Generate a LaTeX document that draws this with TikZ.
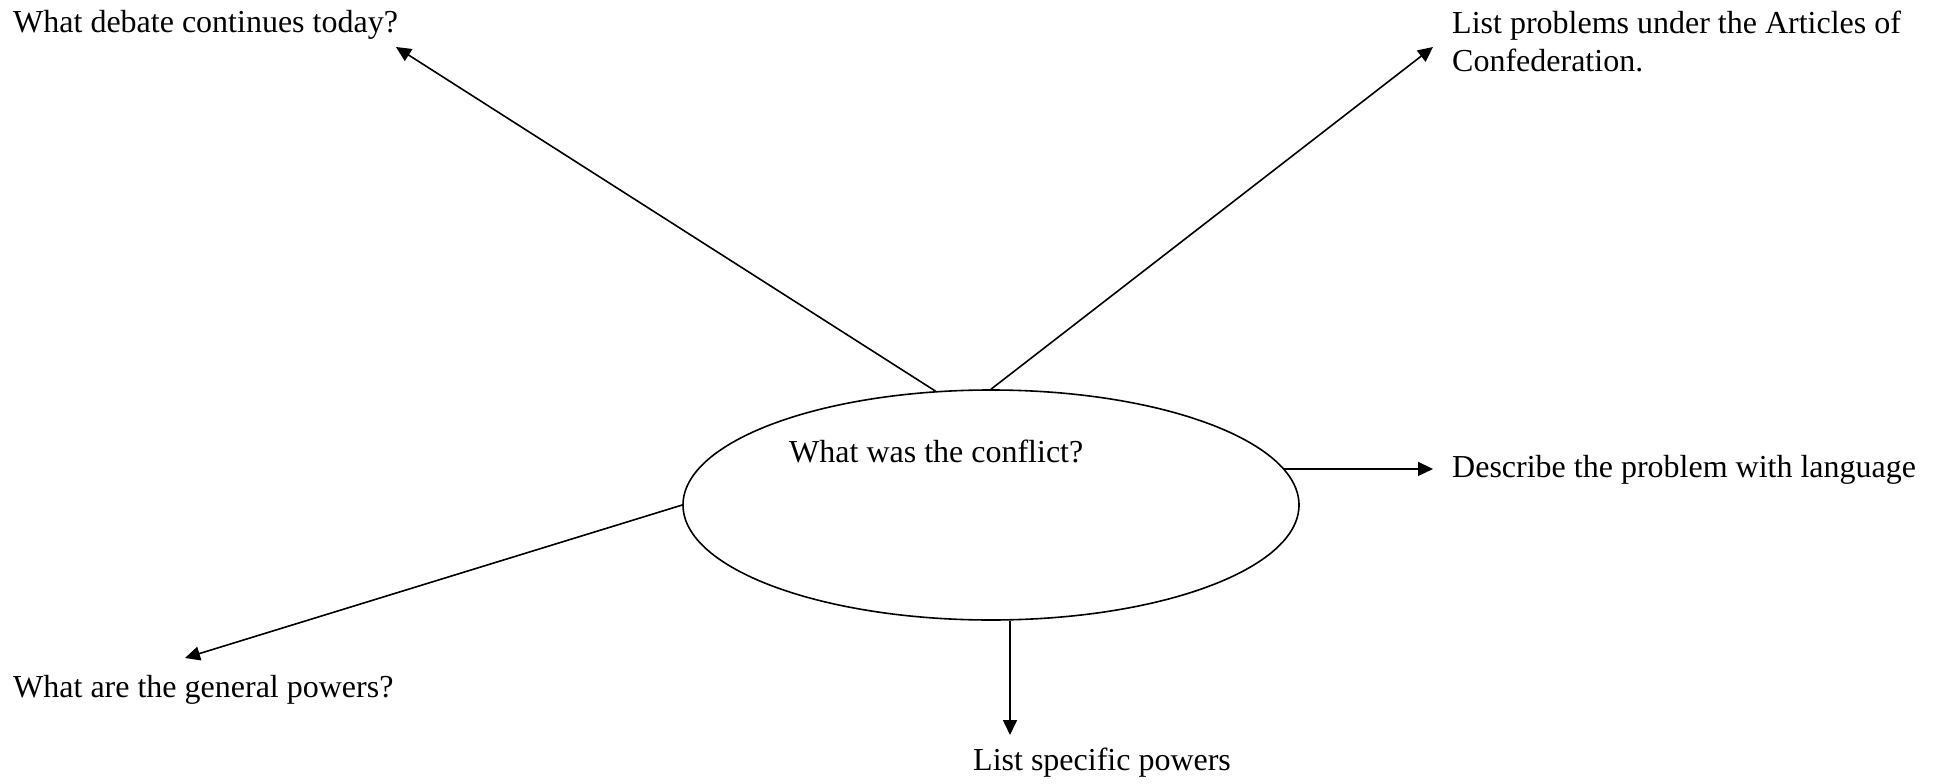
\documentclass[tikz,border=0pt]{standalone}
\usepackage{fontspec}
\setmainfont{Liberation Serif}
\usepackage{tikz}
\usetikzlibrary{arrows.meta}
\usetikzlibrary{shapes.geometric}
\usetikzlibrary{positioning}
\tikzset{pointer/.style = {-{Triangle[length=15pt, width=14pt]}, line width=1.6pt},
         bubble/.style = {ellipse, draw, line width=1.6pt, minimum width=616pt,
                          minimum height=230pt, inner sep=0pt},
         prompt/.style = {anchor=base west, inner sep=0pt, align=left,
                          font=\fontsize{32}{38}\selectfont}}

\begin{document}
\begin{tikzpicture}[x=1pt, y=-1pt]
      \useasboundingbox (0, 0) rectangle (1941, 784);

      \node [bubble] (conflict) at (991, 505) {};
      \node [prompt] (conflictq) at (789, 462) {What was the conflict?};

      \node [prompt] (debate) at (13, 33) {What debate continues today?};
      \node [prompt] (articles) at (1452, 72) {List problems under the Articles of\\Confederation.};
      \node [prompt] (language) at (1452, 477) {Describe the problem with language};
      \node [prompt] (general) at (13, 697) {What are the general powers?};
      \node [prompt] (specific) at (973, 770) {List specific powers};

      \coordinate (debatetip) at (396, 47);
      \coordinate (articlestip) at (1433, 47);
      \coordinate (languagetip) at (1433, 0);
      \coordinate (generaltip) at (185, 658);
      \coordinate (specifictip) at (1010, 735);

      \draw [pointer] (conflict.116) -- (debatetip);
      \draw [pointer] (conflict.north) -- (articlestip);
      \draw [pointer] (conflict.7) -- (conflict.7 -| languagetip);
      \draw [pointer] (conflict.west) -- (generaltip);
      \draw [pointer] (conflict.south -| specifictip) -- (specifictip);
    \end{tikzpicture}
\end{document}
